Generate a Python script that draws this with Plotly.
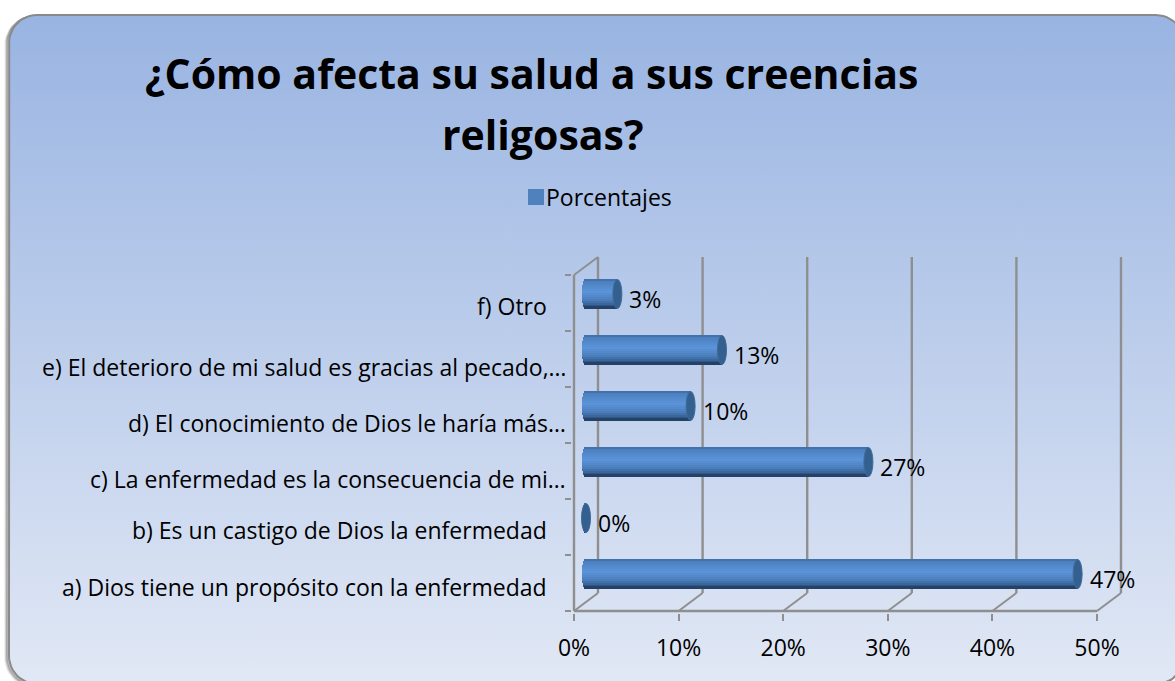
"""Horizontal 3-D style cylinder bars drawn with Plotly, on a rounded gradient panel."""
import math
import plotly.graph_objects as go

# ---------------------------------------------------------------------------
# Data
# ---------------------------------------------------------------------------
categories = [
    'a) Dios tiene un propósito con la enfermedad',
    'b) Es un castigo de Dios la enfermedad',
    'c) La enfermedad es la consecuencia de mi…',
    'd) El conocimiento de Dios le haría más…',
    'e) El deterioro de mi salud es gracias al pecado,…',
    'f) Otro',
]
percentages = [47, 0, 27, 10, 13, 3]
value_ticks = [0, 10, 20, 30, 40, 50]
value_tick_labels = ['0%', '10%', '20%', '30%', '40%', '50%']
series_name = 'Porcentajes'
title_lines = ['¿Cómo afecta su salud a sus creencias', 'religosas?']

# ---------------------------------------------------------------------------
# Layout constants (pixels on the 1175x681 page)
# ---------------------------------------------------------------------------
W, H = 1175, 681
FONT = 'Open Sans'
TEXT_SIZE = 23
X0, X50 = 574, 1097          # front axis 0% and 50%
Y_BOTTOM, Y_TOP = 611, 275   # front axis ends
DEPTH_X, DEPTH_Y = 24, 18    # floor depth
PAD = 2
PX_X = (X50 - X0) / 50
PX_Y = (Y_BOTTOM - Y_TOP) / 6
GRID = '#8f8f8f'

RADIUS_X = 4.5               # end cap half width
BAR_PX = 29                  # bar thickness
STRIPS = 15
# cylinder shading, top to bottom
shade_stops = [
    (0.00, (62, 106, 160)), (0.10, (76, 128, 192)), (0.42, (92, 148, 218)),
    (0.68, (76, 128, 190)), (0.86, (56, 98, 150)), (1.00, (30, 56, 90)),
]

title_x = [531, 543]
title_y = [73, 134]
label_right = [549, 549, 568, 568, 568, 549]
label_y = [587, 530, 479, 423, 367, 306]


def shade(t):
    for (t0, c0), (t1, c1) in zip(shade_stops, shade_stops[1:]):
        if t <= t1:
            f = (t - t0) / (t1 - t0)
            rgb = [round(a + (b - a) * f) for a, b in zip(c0, c1)]
            return f'rgb({rgb[0]},{rgb[1]},{rgb[2]})'
    return 'rgb(30,56,90)'


def panel_path(dx=0, dy=0, left=9, top=15, right=1184, bottom=684, r=28):
    """Rounded rectangle outline as x / y lists, for the page axes."""
    xs, ys = [], []
    corners = [(right - r, top + r, -90), (right - r, bottom - r, 0),
               (left + r, bottom - r, 90), (left + r, top + r, 180)]
    for cx, cy, start in corners:
        for k in range(13):
            a = math.radians(start + k * 7.5)
            xs.append(cx + r * math.cos(a) + dx)
            ys.append(cy + r * math.sin(a) + dy)
    return xs + xs[:1], ys + ys[:1]


fig = go.Figure()

# ---------------------------------------------------------------------------
# Panel, on page axes
# ---------------------------------------------------------------------------
for off, alpha in ((-3.5, 0.10), (-2.5, 0.20), (-1.5, 0.30)):
    sx, sy = panel_path(dx=off, dy=-off * 0.6)
    fig.add_trace(go.Scatter(x=sx, y=sy, mode='lines', hoverinfo='skip', showlegend=False,
                             line=dict(color=f'rgba(60,60,60,{alpha})', width=2.5)))
px_, py_ = panel_path()
fig.add_trace(go.Scatter(
    x=px_, y=py_, mode='lines', fill='toself', hoverinfo='skip', showlegend=False,
    line=dict(color='#8a8a8a', width=2),
    fillgradient=dict(type='vertical',
                      colorscale=[[0, '#e1e8f5'], [1, '#99b4e2']]),
))

# legend swatch, its text is an annotation further down
fig.add_trace(go.Scatter(
    x=[536], y=[197], mode='markers', name=series_name,
    marker=dict(symbol='square', size=16, color='#4f81bd'),
    hoverinfo='skip', showlegend=False,
))

# ---------------------------------------------------------------------------
# Bars, one strip per shade so the bar reads as a cylinder
# ---------------------------------------------------------------------------
unit_h = BAR_PX / PX_Y
lift = (DEPTH_Y / 2) / PX_Y
shift = (DEPTH_X / 2) / PX_X
cap = RADIUS_X / PX_X

for s in range(STRIPS):
    t0, t1 = s / STRIPS, (s + 1) / STRIPS
    mid = (t0 + t1) / 2
    bulge = cap * math.sqrt(max(0, 1 - (2 * mid - 1) ** 2))
    fig.add_trace(go.Bar(
        y=categories, x=[v + bulge for v in percentages],
        base=[shift - bulge] * len(percentages),
        orientation='h', xaxis='x2', yaxis='y2',
        offset=lift + unit_h / 2 - t1 * unit_h, width=unit_h / STRIPS + 0.002,
        marker=dict(color=shade(mid), line=dict(width=0)),
        hoverinfo='skip', showlegend=False,
    ))

shapes = []
# back wall gridlines and floor diagonals
wall_x = DEPTH_X / PX_X
wall_y = DEPTH_Y / PX_Y
for t in value_ticks:
    shapes.append(dict(type='line', xref='x2', yref='y2', layer='below',
                       x0=t + wall_x, x1=t + wall_x, y0=-0.5 + wall_y, y1=5.5 + wall_y,
                       line=dict(color=GRID, width=2.4)))
    shapes.append(dict(type='line', xref='x2', yref='y2', layer='below',
                       x0=t, x1=t + wall_x, y0=-0.5, y1=-0.5 + wall_y,
                       line=dict(color=GRID, width=2)))
# top diagonal, front axis lines
shapes.append(dict(type='line', xref='x2', yref='y2', layer='below',
                   x0=0, x1=wall_x, y0=5.5, y1=5.5 + wall_y, line=dict(color=GRID, width=2)))
shapes.append(dict(type='line', xref='x2', yref='y2', layer='below',
                   x0=0, x1=0, y0=-0.5, y1=5.5, line=dict(color=GRID, width=2.4)))
shapes.append(dict(type='line', xref='x2', yref='y2', layer='below',
                   x0=0, x1=50, y0=-0.5, y1=-0.5, line=dict(color=GRID, width=2.4)))
# end caps
for i, v in enumerate(percentages):
    yc = i + lift
    shapes.append(dict(type='circle', xref='x2', yref='y2', layer='above',
                       x0=v + shift - cap, x1=v + shift + cap,
                       y0=yc - unit_h / 2, y1=yc + unit_h / 2,
                       fillcolor='#33608f', line=dict(color='#3f6a9b', width=1)))

annotations = []
for line, x, y in zip(title_lines, title_x, title_y):
    annotations.append(dict(text=f'<b>{line}</b>', xref='x', yref='y', x=x, y=y,
                            showarrow=False, xanchor='center', yanchor='middle',
                            font=dict(family=FONT, size=41, color='black')))
annotations.append(dict(text=series_name, xref='x', yref='y', x=544, y=197,
                        showarrow=False, xanchor='left', yanchor='middle',
                        font=dict(family=FONT, size=TEXT_SIZE, color='black')))
for name, xr, y in zip(categories, label_right, label_y):
    annotations.append(dict(text=name, xref='x', yref='y', x=xr, y=y,
                            showarrow=False, xanchor='right', yanchor='middle',
                            font=dict(family=FONT, size=TEXT_SIZE, color='black')))
for name, v in zip(categories, percentages):
    annotations.append(dict(text=f'{v}%', xref='x2', yref='y2', x=v, y=name,
                            showarrow=False, xanchor='left', yanchor='middle',
                            xshift=22, yshift=4,
                            font=dict(family=FONT, size=TEXT_SIZE, color='black')))

fig.update_layout(
    width=W, height=H,
    margin=dict(l=0, r=0, t=0, b=0, autoexpand=False),
    paper_bgcolor='white', plot_bgcolor='rgba(0,0,0,0)',
    barmode='overlay', bargap=0,
    font=dict(family=FONT, size=TEXT_SIZE, color='black'),
    showlegend=False,
    xaxis=dict(domain=[0, 1], range=[0, W], visible=False, fixedrange=True),
    yaxis=dict(domain=[0, 1], range=[H, 0], visible=False, fixedrange=True),
    xaxis2=dict(
        domain=[(X0 - PAD) / W, (X50 + DEPTH_X + PAD) / W],
        range=[-PAD / PX_X, 50 + (DEPTH_X + PAD) / PX_X],
        anchor='y2', tickmode='array', tickvals=value_ticks, ticktext=value_tick_labels,
        ticks='outside', ticklen=7, tickwidth=2, tickcolor=GRID,
        showgrid=False, zeroline=False, showline=False, ticklabelstandoff=7,
        tickfont=dict(family=FONT, size=TEXT_SIZE, color='black'),
    ),
    yaxis2=dict(
        domain=[1 - (Y_BOTTOM + PAD) / H, 1 - (Y_TOP - DEPTH_Y - PAD) / H],
        range=[-0.5 - PAD / PX_Y, 5.5 + (DEPTH_Y + PAD) / PX_Y],
        anchor='x2', type='category', categoryorder='array', categoryarray=categories,
        ticks='outside', ticklen=6, tickwidth=2, tickcolor=GRID, tickson='boundaries',
        showticklabels=False, showgrid=False, zeroline=False, showline=False,
    ),
    shapes=shapes, annotations=annotations,
)

fig.write_html('out.html', config=dict(displayModeBar=False),
               post_script="document.body.style.margin='0';document.body.style.overflow='hidden';")
